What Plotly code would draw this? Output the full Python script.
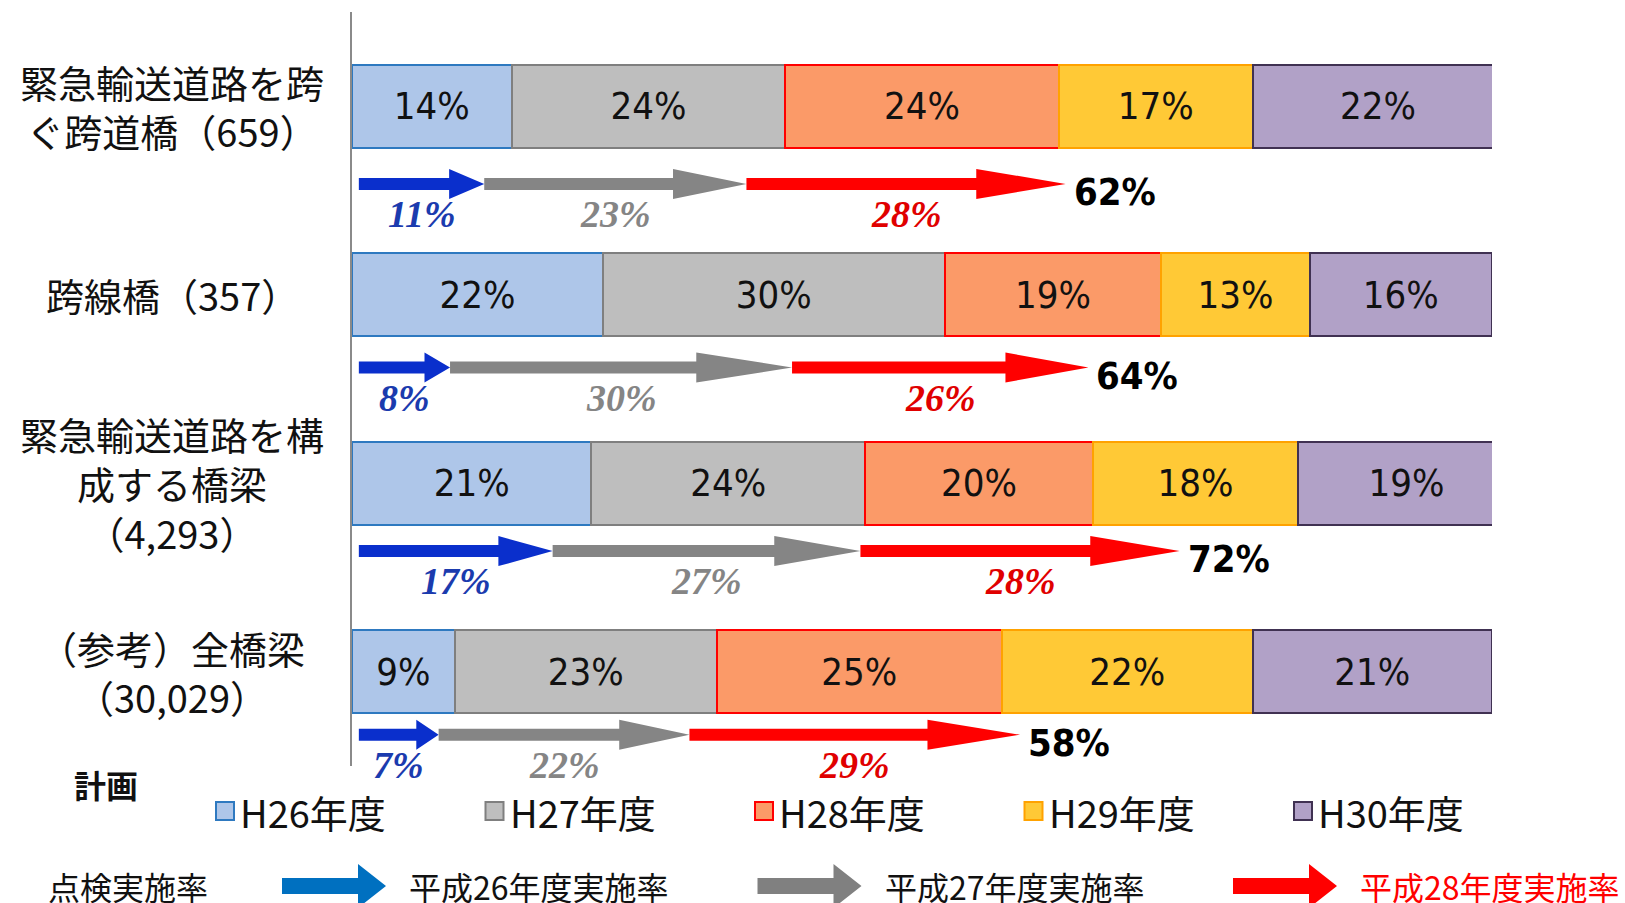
import plotly.graph_objects as go

# ---------------- data ----------------
categories = [
    "緊急輸送道路を跨<br>ぐ跨道橋（659）",
    "跨線橋（357）",
    "緊急輸送道路を構<br>成する橋梁<br>（4,293）",
    "（参考）全橋梁<br>（30,029）",
]
years = ["H26年度", "H27年度", "H28年度", "H29年度", "H30年度"]
plan_h26 = [14, 22, 21, 9]
plan_h27 = [24, 30, 24, 23]
plan_h28 = [24, 19, 20, 25]
plan_h29 = [17, 13, 18, 22]
plan_h30 = [22, 16, 19, 21]
plan_series = [plan_h26, plan_h27, plan_h28, plan_h29, plan_h30]

rate_h26 = [11, 8, 17, 7]
rate_h27 = [23, 30, 27, 22]
rate_h28 = [28, 26, 28, 29]
rate_total = [62, 64, 72, 58]
rate_series = [rate_h26, rate_h27, rate_h28]
rate_names = ["平成26年度実施率", "平成27年度実施率", "平成28年度実施率"]

# ---------------- styles ----------------
W, H = 1625, 903
ML, MR, MT, MB = 352, 133, 12, 137
PW, PH = W - ML - MR, H - MT - MB

fills = ["#AEC6E9", "#BEBEBE", "#FB9A68", "#FFC936", "#B1A1C7"]
borders = ["#2E79C0", "#7F7F7F", "#FF0000", "#FFA200", "#403152"]
arrow_cols = ["#0A2FCC", "#858585", "#FF0000"]
rate_label_cols = ["#1B3BAE", "#858585", "#E00000"]
legend_arrow_cols = ["#0070C0", "#808080", "#FF0000"]

CJK = "Noto Sans CJK JP, Noto Sans, sans-serif"
NARROW = "Liberation Sans Narrow, Arial Narrow, DejaVu Sans Condensed, Liberation Sans, sans-serif"
SERIF = "Liberation Serif, Times New Roman, serif"

ARROW_OFF0 = 0.412   # arrow row offset below bar center (data units)
ARROW_STEP = -0.026


def px_x(px):
    return (px - ML) / PW


def px_y(py):
    return 1 - (py - MT) / PH


fig = go.Figure()
ypos = list(range(len(categories)))
for name, vals, fc, bc in zip(years, plan_series, fills, borders):
    fig.add_trace(go.Bar(
        y=ypos, x=vals, name=name, orientation="h", width=0.44,
        marker=dict(color=fc, line=dict(color=bc, width=2)),
        text=[f"{v}%" for v in vals], textposition="inside",
        insidetextanchor="middle", constraintext="none",
        textfont=dict(family=NARROW, size=38, color="#111111"),
        showlegend=False, hoverinfo="skip",
    ))

shapes = []
annotations = []

# category labels
for i, cat in enumerate(categories):
    annotations.append(dict(
        x=px_x(172), xref="paper", y=i, yref="y", text=cat, showarrow=False,
        xanchor="center", yanchor="middle", align="center",
        font=dict(family=CJK, size=38, color="#111111"),
    ))

# achievement-rate arrows
START = 0.6
for i in range(len(categories)):
    yc = i + ARROW_OFF0 + ARROW_STEP * i
    cum = START
    for k, series in enumerate(rate_series):
        v = series[i]
        x0, x1 = cum, cum + v
        head = 0.28 * v
        xs = x1 - head
        sh, hh = 6, 15
        path = (f"M {x0},{-sh} L {xs},{-sh} L {xs},{-hh} L {x1},0 "
                f"L {xs},{hh} L {xs},{sh} L {x0},{sh} Z")
        shapes.append(dict(type="path", xref="x", yref="y", ysizemode="pixel",
                           yanchor=yc, path=path, fillcolor=arrow_cols[k],
                           line=dict(width=0)))
        annotations.append(dict(
            x=(x0 + x1) / 2, xref="x", y=yc, yref="y", yshift=-30,
            text=f"<b><i>{v}%</i></b>", showarrow=False, xanchor="center",
            yanchor="middle",
            font=dict(family=SERIF, size=38, color=rate_label_cols[k]),
        ))
        cum = x1
    annotations.append(dict(
        x=cum, xref="x", y=yc, yref="y", xshift=6, yshift=-8,
        text=f"<b>{rate_total[i]}%</b>", showarrow=False, xanchor="left",
        yanchor="middle",
        font=dict(family=NARROW, size=38, color="#000000"),
    ))

# legend: plan
annotations.append(dict(
    x=px_x(72), xref="paper", y=px_y(784), yref="paper", text="<b>計画</b>",
    showarrow=False, xanchor="left", yanchor="middle",
    font=dict(family=CJK, size=32, color="#111111"),
))
for j, (name, fc, bc) in enumerate(zip(years, fills, borders)):
    x0 = 216 + j * 269.5
    shapes.append(dict(type="rect", xref="paper", yref="paper",
                       x0=px_x(x0), x1=px_x(x0 + 18), y0=px_y(820), y1=px_y(802),
                       fillcolor=fc, line=dict(color=bc, width=2)))
    annotations.append(dict(
        x=px_x(x0 + 22), xref="paper", y=px_y(811), yref="paper", text=name,
        showarrow=False, xanchor="left", yanchor="middle",
        font=dict(family=CJK, size=38, color="#111111"),
    ))

# legend: inspection rate arrows
annotations.append(dict(
    x=px_x(46), xref="paper", y=px_y(886), yref="paper", text="点検実施率",
    showarrow=False, xanchor="left", yanchor="middle",
    font=dict(family=CJK, size=32, color="#111111"),
))
for j, (name, col) in enumerate(zip(rate_names, legend_arrow_cols)):
    ax0 = 282 + j * 475.5
    ax1 = ax0 + 104
    axs = ax0 + 76
    ayc = 886
    pts = [(ax0, ayc - 8), (axs, ayc - 8), (axs, ayc - 22), (ax1, ayc),
           (axs, ayc + 22), (axs, ayc + 8), (ax0, ayc + 8)]
    path = "M " + " L ".join(f"{px_x(px)},{px_y(py)}" for px, py in pts) + " Z"
    shapes.append(dict(type="path", xref="paper", yref="paper", path=path,
                       fillcolor=col, line=dict(width=0)))
    annotations.append(dict(
        x=px_x(ax1 + 21), xref="paper", y=px_y(886), yref="paper", text=name,
        showarrow=False, xanchor="left", yanchor="middle",
        font=dict(family=CJK, size=32, color="#FF0000" if j == 2 else "#111111"),
    ))

fig.update_layout(
    width=W, height=H, barmode="stack",
    margin=dict(l=ML, r=MR, t=MT, b=MB, autoexpand=False),
    paper_bgcolor="white", plot_bgcolor="white",
    xaxis=dict(range=[0, 100], visible=False, fixedrange=True),
    yaxis=dict(range=[3.5, -0.5], showticklabels=False, showgrid=False,
               zeroline=False, showline=True, linecolor="#8A8A8A", linewidth=2,
               ticks="", fixedrange=True),
    shapes=shapes, annotations=annotations,
)

fig.write_html(
    "out.html",
    config={"displayModeBar": False},
    post_script="document.body.style.margin='0';document.body.style.overflow='hidden';",
)
